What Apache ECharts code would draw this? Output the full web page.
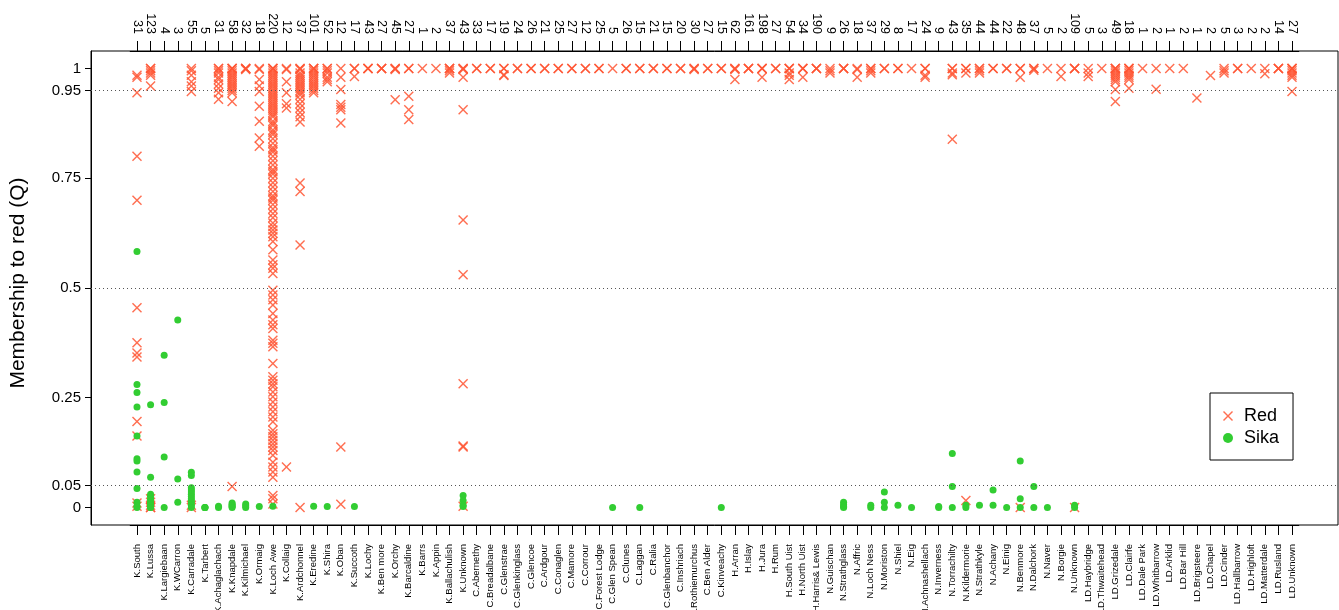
<!DOCTYPE html>
<html>
<head>
<meta charset="utf-8">
<script src="https://cdn.jsdelivr.net/npm/echarts@6/dist/echarts.min.js"></script>
<style>
html,body{margin:0;padding:0;background:#fff;}
#chart{width:1339px;height:610px;}
</style>
</head>
<body>
<div id="chart"></div>
<script>
const sites = ["K.South","K.Lussa","K.Largiebaan","K.WCarron","K.Carradale","K.Tarbert","K.Achaglachach","K.Knapdale","K.Kilmichael","K.Ormaig","K.Loch Awe","K.Collaig","K.Ardchonnel","K.Eredine","K.Shira","K.Oban","K.Succoth","K.Lochy","K.Ben more","K.Orchy","K.Barcaldine","K.Barrs","K.Appin","K.Ballachulish","K.Unknown",
"C.Abernethy","C.Breadalbane","C.Glenstrae","C.Glenkinglass","C.Glencoe","C.Ardgour","C.Conaglen","C.Mamore","C.Corrour","C.Forest Lodge","C.Glen Spean","C.Clunes","C.Laggan","C.Ralia","C.Glenbanchor","C.Inshriach","C.Rothiemurchus","C.Ben Alder","C.Kinveachy",
"H.Arran","H.Islay","H.Jura","H.Rum","H.South Uist","H.North Uist","H.Harris& Lewis",
"N.Guischan","N.Strathglass","N.Affric","N.Loch Ness","N.Moriston","N.Shiel","N.Eig","N.Achnashellach","N.Inverness","N.Torrachilty","N.Kildermorie","N.Strathkyle","N.Achany","N.Einig","N.Benmore","N.Dalchork","N.Naver","N.Borgie","N.Unknown",
"LD.Haybridge","LD.Thwaitehead","LD.Grizedale","LD.Clairfe","LD.Dale Park","LD.Whitbarrow","LD.Arklid","LD.Bar Hill","LD.Brigsteere","LD.Chapel","LD.Cinder","LD.Hallbarrow","LD.Highloft","LD.Matterdale","LD.Rusland","LD.Unknown"];

const counts = [31,123,4,3,55,5,31,58,32,18,220,12,37,101,52,12,17,43,27,45,27,1,2,37,43,
33,17,19,24,26,21,25,27,12,25,5,26,15,21,15,20,30,27,15,
62,161,198,27,54,34,190,
9,26,18,37,29,8,17,24,9,43,35,44,44,22,48,37,5,2,109,
5,3,49,18,1,2,1,2,1,2,5,3,2,2,14,27];

const yTicks = [0,0.05,0.25,0.5,0.75,0.95,1];
const refLines = [0.05,0.5,0.95];

// Q values of individuals classed as Red, per site (same order as sites)
const redQ = [
 [0.985,0.98,0.945,0.8,0.7,0.455,0.375,0.352,0.343,0.196,0.163,0.01,0.003],
 [1,1,0.995,0.99,0.985,0.96,0.02,0.012,0.005,0,0],
 [],
 [],
 [1,0.995,0.985,0.97,0.96,0.948,0.005,0],
 [],
 [1,1,0.995,0.99,0.98,0.975,0.965,0.955,0.945,0.93],
 [1,1,1,0.995,0.99,0.985,0.98,0.975,0.97,0.965,0.96,0.955,0.95,0.945,0.925,0.048],
 [1,1,1,0.998],
 [1,0.998,0.975,0.96,0.948,0.914,0.88,0.842,0.823],
 [1,1,1,0.995,0.99,0.985,0.98,0.975,0.97,0.965,0.96,0.955,0.95,0.945,0.94,0.935,0.93,0.925,0.92,0.915,0.91,0.905,0.9,0.895,0.89,0.88,0.875,0.87,0.86,0.855,0.85,0.84,0.83,0.82,0.815,0.81,0.8,0.79,0.78,0.77,0.765,0.76,0.75,0.74,0.73,0.72,0.71,0.705,0.7,0.69,0.68,0.67,0.66,0.648,0.64,0.632,0.625,0.617,0.606,0.587,0.564,0.553,0.545,0.533,0.495,0.484,0.473,0.461,0.442,0.427,0.416,0.408,0.381,0.374,0.366,0.328,0.298,0.29,0.282,0.275,0.263,0.252,0.24,0.229,0.218,0.206,0.195,0.176,0.168,0.161,0.153,0.145,0.138,0.13,0.119,0.103,0.092,0.081,0.069,0.027,0.02,0.008],
 [1,0.998,0.97,0.945,0.92,0.91,0.092],
 [1,1,0.998,0.99,0.985,0.98,0.975,0.97,0.965,0.96,0.955,0.95,0.945,0.94,0.93,0.92,0.91,0.9,0.89,0.878,0.739,0.72,0.598,0],
 [1,1,1,0.995,0.99,0.985,0.98,0.975,0.97,0.965,0.96,0.955,0.95,0.945],
 [1,1,0.995,0.99,0.98,0.975,0.97],
 [1,0.98,0.952,0.918,0.912,0.906,0.876,0.138,0.007],
 [1,1,0.982],
 [1,1,1],
 [1,1,1],
 [1,1,0.998,0.929],
 [1,1,0.937,0.906,0.884],
 [1],
 [1],
 [1,1,1,0.995,0.99],
 [1,1,0.998,0.98,0.906,0.655,0.53,0.282,0.14,0.138,0.003],
 [1,1],[1,1],[1,1,0.986,0.984],[1,1],[1,1],[1,1],[1,1],[1,1],[1,1],[1,1],
 [1],[1,1],[1,1],[1,1],[1,1],[1,1],[1,1,0.998],[1,1],[1,1],
 [1,1,0.998,0.975],[1,1,1],[1,1,1,0.98],[1,1],[1,1,1,0.99,0.985,0.975],[1,1,1,0.98],[1,1,1],
 [1,0.995,0.99],[1,1,1],[1,0.998,0.98],[1,1,0.995,0.99],[1,1],[1,1],[1],[1,1,0.985,0.98],[],
 [1,1,0.99,0.986,0.839],[1,1,0.99,0.016],[1,1,0.995,0.99],[1,1],[1,1],[1,1,0.98,0],[1,1,0.996],[1],[1,0.982],[1,1,1,0],
 [1,0.99,0.982],[1],[1,1,1,0.995,0.99,0.985,0.98,0.975,0.97,0.952,0.925],[1,1,1,0.995,0.99,0.985,0.98,0.975,0.955],
 [1],[1,0.953],[1],[1],[0.933],[0.984],[1,0.995,0.99],[1,1],[1],[1,0.988],[1,1,1],[1,1,1,0.995,0.99,0.985,0.98,0.948]
];

// Q values of individuals classed as Sika, per site
const sikaQ = [
 [0.583,0.28,0.262,0.229,0.163,0.111,0.106,0.081,0.043,0.012,0.003,0],
 [0.234,0.069,0.03,0.025,0.02,0.015,0.01,0.008,0.005,0,0],
 [0.347,0.239,0.115,0],
 [0.427,0.065,0.012],
 [0.08,0.073,0.045,0.04,0.035,0.03,0.025,0.02,0.015,0.01,0.005,0],
 [0,0,0],
 [0.003,0],
 [0.01,0.007,0.004,0.002,0],
 [0.008,0.004,0],
 [0.002],
 [0.003],
 [],[],[0.003],[0.002],[],[0.002],[],[],[],[],[],[],[],
 [0.027,0.016,0.005,0.002],
 [],[],[],[],[],[],[],[],[],[],[0],[],[0],[],[],[],[],[],[0],
 [],[],[],[],[],[],[],
 [],[0.012,0.006,0.002,0],[],[0.005,0],[0.035,0.012,0],[0.005],[0],[],[0.002,0],
 [0.123,0.048,0],[0.005,0],[0.005],[0.04,0.005],[0],[0.106,0.02,0],[0.048,0],[0],[],[0.005,0],
 [],[],[],[],[],[],[],[],[],[],[],[],[],[],[],[]
];

const redData = [];
redQ.forEach((arr, i) => arr.forEach(v => redData.push([i, v])));
const sikaData = [];
sikaQ.forEach((arr, i) => arr.forEach(v => sikaData.push([i, v])));

const crossPath = 'path://M0,1L1,0L5,4L9,0L10,1L6,5L10,9L9,10L5,6L1,10L0,9L4,5Z';
const FONT = 'Liberation Sans, Arial, sans-serif';

const chart = echarts.init(document.getElementById('chart'), null, {renderer: 'canvas'});
chart.setOption({
  animation: false,
  backgroundColor: '#fff',
  textStyle: {fontFamily: FONT},
  grid: [
    {left: 91, right: 1, top: 51, bottom: 85, show: true, borderColor: '#000', borderWidth: 1, backgroundColor: 'transparent', containLabel: false, outerBoundsMode: 'none'},
    {left: 130.2, right: 40.2, top: 51, bottom: 85, show: false, containLabel: false, outerBoundsMode: 'none'}
  ],
  xAxis: [
    {gridIndex: 0, type: 'value', min: 0, max: 1, show: false},
    {gridIndex: 1, type: 'category', data: sites, position: 'bottom', boundaryGap: true,
     axisLine: {show: true, onZero: false, lineStyle: {color: '#000', width: 1}},
     axisTick: {show: true, alignWithLabel: true, interval: 0, length: 10, lineStyle: {color: '#000'}},
     axisLabel: {interval: 0, rotate: 90, fontSize: 9.5, color: '#000', margin: 19, fontFamily: FONT},
     splitLine: {show: false}},
    {gridIndex: 1, type: 'category', data: sites, position: 'top', boundaryGap: true,
     axisLine: {show: true, onZero: false, lineStyle: {color: '#000', width: 1}},
     axisTick: {show: true, alignWithLabel: true, interval: 0, length: 10, lineStyle: {color: '#000'}},
     axisLabel: {interval: 0, rotate: 90, fontSize: 12.5, color: '#000', margin: 17, fontFamily: FONT,
       formatter: (v, i) => String(counts[i])},
     splitLine: {show: false}}
  ],
  yAxis: [
    {gridIndex: 0, type: 'value', min: -0.04, max: 1.04,
     axisLine: {show: true, lineStyle: {color: '#000'}},
     axisTick: {show: true, customValues: yTicks, length: 6, lineStyle: {color: '#000'}},
     axisLabel: {customValues: yTicks, fontSize: 15, color: '#000', margin: 10, fontFamily: FONT},
     splitLine: {show: false}},
    {gridIndex: 1, type: 'value', min: -0.04, max: 1.04, show: false}
  ],
  legend: {
    data: [{name: 'Red', icon: crossPath}, {name: 'Sika', icon: 'circle'}],
    orient: 'vertical', left: 1210, top: 393,
    padding: [14, 14, 13, 13],
    itemWidth: 10, itemHeight: 10, itemGap: 4,
    borderColor: '#000', borderWidth: 1, borderRadius: 0,
    textStyle: {fontSize: 18, color: '#000', fontFamily: FONT, padding: [0, 0, 0, 6]}
  },
  graphic: [{
    type: 'text', x: 18, y: 283, rotation: Math.PI / 2,
    style: {text: 'Membership to red (Q)', fontSize: 21, fontFamily: FONT, fill: '#000', align: 'center', verticalAlign: 'middle'}
  }],
  series: [
    {type: 'line', xAxisIndex: 0, yAxisIndex: 0, data: [], silent: true,
     markLine: {silent: true, symbol: ['none', 'none'], label: {show: false},
       lineStyle: {color: '#555', type: [1, 3], width: 1},
       data: refLines.map(v => ({yAxis: v}))}},
    {name: 'Red', type: 'scatter', xAxisIndex: 1, yAxisIndex: 1, data: redData,
     symbol: crossPath, symbolSize: 10,
     itemStyle: {color: '#FF5533', opacity: 0.85}},
    {name: 'Sika', type: 'scatter', xAxisIndex: 1, yAxisIndex: 1, data: sikaData,
     symbol: 'circle', symbolSize: 7,
     itemStyle: {color: '#32CD32', opacity: 1}}
  ]
});
</script>
</body>
</html>
